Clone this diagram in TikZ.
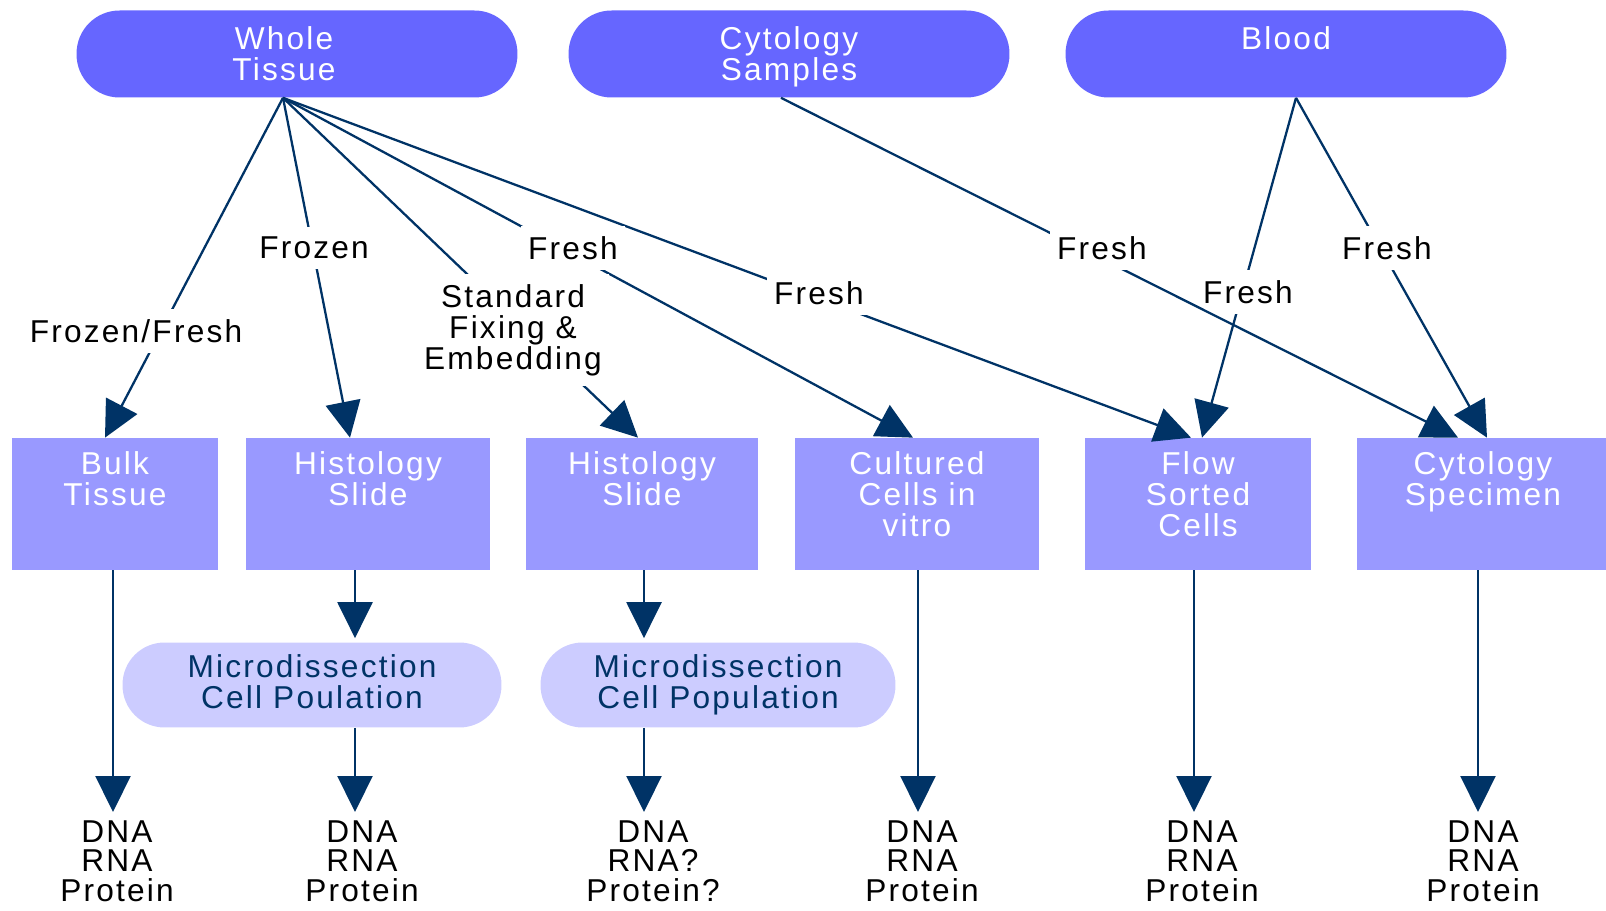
\documentclass[tikz,border=0pt]{standalone}
\usepackage{fontspec}
\setmainfont{Liberation Sans}[LetterSpace=7]
\usetikzlibrary{arrows.meta, positioning}

\definecolor{topblue}{HTML}{6666FF}
\definecolor{boxblue}{HTML}{9999FF}
\definecolor{paleblue}{HTML}{CCCCFF}
\definecolor{navy}{HTML}{003366}

\begin{document}
\begin{tikzpicture}[x=0.02cm, y=-0.02cm, >={Triangle[length=0.72cm, width=0.7cm]},
    font=\fontsize{18}{17.6}\selectfont,
    source/.style={rectangle, rounded corners=0.86cm, fill=topblue, text=white, align=center,
        minimum width=8.82cm, minimum height=1.74cm, inner sep=0pt, text depth=0pt},
    sourcetext/.style={text=white, align=center, inner sep=0pt, text depth=0pt},
    stage/.style={rectangle, fill=boxblue, minimum height=2.64cm, inner sep=0pt},
    stagetext/.style={text=white, align=center, inner sep=0pt},
    micro/.style={rectangle, rounded corners=0.84cm, fill=paleblue, text=navy, align=center,
        minimum height=1.7cm, inner sep=0pt, text depth=3.8pt},
    result/.style={align=center, inner sep=0pt, anchor=north, font=\fontsize{18}{17}\selectfont},
    tag/.style={fill=white, align=center, inner xsep=0.15cm, inner ysep=0.2cm},
    arr/.style={->, draw=navy, line width=1.3pt}]

\useasboundingbox (0,0) rectangle (1606,911);
\clip (0,0) rectangle (1606,911);

% Sources
\node[source] (whole) at (297,54) {};
\node[sourcetext] (wholetxt) at (284,54) {Whole\\Tissue};
\node[source] (cytsamp) at (789,54) {Cytology\\Samples};
\node[source] (blood) at (1286,54) {Blood\\~};

\coordinate (wt) at ([xshift=-0.28cm]whole.south);
\coordinate (cs) at ([xshift=-0.16cm]cytsamp.south);
\coordinate (bl) at ([xshift=0.2cm]blood.south);

% Stages
\node[stage, minimum width=4.12cm] (bulk) at (115,504) {};
\node[stage, minimum width=4.9cm] (hist1) at (368,504) {};
\node[stage, minimum width=4.64cm] (hist2) at (642,504) {};
\node[stage, minimum width=4.88cm] (cult) at (917,504) {};
\node[stage, minimum width=4.52cm] (flow) at (1198,504) {};
\node[stage, minimum width=5.06cm] (cytspec) at (1483,504) {};

\node[stagetext, below=0.28cm of bulk.north] (bulktxt) {Bulk\\Tissue};
\node[stagetext, below=0.28cm of hist1.north] (hist1txt) {Histology\\Slide};
\node[stagetext, below=0.28cm of hist2.north] (hist2txt) {Histology\\Slide};
\node[stagetext, below=0.28cm of cult.north] (culttxt) {Cultured\\Cells in\\vitro};
\node[stagetext, below=0.28cm of flow.north] (flowtxt) {Flow\\Sorted\\Cells};
\node[stagetext, below=0.28cm of cytspec.north] (cytspectxt) {Cytology\\Specimen};

% Microdissection
\node[micro, minimum width=7.58cm] (micro1) at (312,685) {Microdissection\\Cell Poulation};
\node[micro, minimum width=7.1cm] (micro2) at (718,685) {Microdissection\\Cell Population};

% Results
\node[result] (out1) at (117,820) {DNA\\RNA\\Protein};
\node[result] (out2) at (362,820) {DNA\\RNA\\Protein};
\node[result] (out3) at (653,820) {DNA\\RNA?\\Protein?};
\node[result] (out4) at (922,820) {DNA\\RNA\\Protein};
\node[result] (out5) at (1202,820) {DNA\\RNA\\Protein};
\node[result] (out6) at (1483,820) {DNA\\RNA\\Protein};

% Columns of the vertical arrows
\coordinate (col1) at (113,0);
\coordinate (col2) at (355,0);
\coordinate (col3) at (644,0);
\coordinate (col4) at (918,0);
\coordinate (col5) at (1194,0);
\coordinate (col6) at (1478,0);

% Vertical arrows
\draw[arr, shorten >=0.16cm] (bulk.south -| col1) -- (out1.north -| col1);
\draw[arr, shorten >=0.08cm] (hist1.south -| col2) -- (micro1.north -| col2);
\draw[arr, shorten >=0.16cm] (micro1.south -| col2) -- (out2.north -| col2);
\draw[arr, shorten >=0.08cm] (hist2.south -| col3) -- (micro2.north -| col3);
\draw[arr, shorten >=0.16cm] (micro2.south -| col3) -- (out3.north -| col3);
\draw[arr, shorten >=0.16cm] (cult.south -| col4) -- (out4.north -| col4);
\draw[arr, shorten >=0.16cm] (flow.south -| col5) -- (out5.north -| col5);
\draw[arr, shorten >=0.16cm] (cytspec.south -| col6) -- (out6.north -| col6);

% Diagonal arrows
\path
    (wt) edge[arr] ([xshift=-0.2cm]bulk.north)
         edge[arr] ([xshift=-0.36cm]hist1.north)
         edge[arr] ([xshift=-0.08cm]hist2.north)
         edge[arr] ([xshift=-0.08cm]cult.north)
         edge[arr] ([xshift=-0.14cm]flow.north)
    (bl) edge[arr] ([xshift=0.08cm]flow.north)
         edge[arr] ([xshift=0.08cm]cytspec.north);

% Labels
\node[tag] (lfrofre) at (136,331) {Frozen/Fresh};
\node[tag] (lfro) at (314,248) {Frozen};
\node[tag] (lstd) at (513,330) {Standard\\Fixing \&\\Embedding};
\node[tag] (lfre1) at (573,248) {Fresh};
\node[tag] (lfre2) at (819,293) {Fresh};
\node[tag] (lfre4) at (1248,292) {Fresh};
\node[tag] (lfre5) at (1387,248) {Fresh};

\draw[arr] (cs) -- ([xshift=-0.5cm]cytspec.north);
\node[tag] (lfre3) at (1102,248) {Fresh};

\end{tikzpicture}
\end{document}
